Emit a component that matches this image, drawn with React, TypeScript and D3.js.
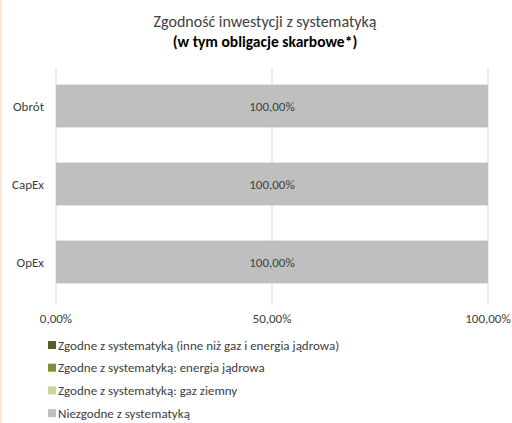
import React, { useRef, useEffect } from 'react';
import * as d3 from 'd3';

const categories = ['Obrót', 'CapEx', 'OpEx'];
const seriesNames = [
  'Zgodne z systematyką (inne niż gaz i energia jądrowa)',
  'Zgodne z systematyką: energia jądrowa',
  'Zgodne z systematyką: gaz ziemny',
  'Niezgodne z systematyką',
];
const seriesColors = ['#4f6228', '#77933c', '#c3d69b', '#bfbfbf'];
const alignedOther = [0, 0, 0];
const alignedNuclear = [0, 0, 0];
const alignedGas = [0, 0, 0];
const notAligned = [100, 100, 100];
const xTicks = [0, 50, 100];

const fmt = (v: number) => v.toFixed(2).replace('.', ',') + '%';
const FONT = 'Carlito, Calibri, Lato, sans-serif';

const App = () => {
  const svgRef = useRef<SVGSVGElement>(null);

  useEffect(() => {
    const width = 512;
    const height = 423;
    const svg = d3.select(svgRef.current);
    svg.selectAll('*').remove();
    svg.attr('width', width).attr('height', height).style('font-family', FONT);

    svg.append('rect').attr('x', 0).attr('y', 0).attr('width', width).attr('height', height).attr('fill', '#fff');
    svg.append('rect').attr('x', 0).attr('y', 0).attr('width', 2).attr('height', height).attr('fill', '#fde5d8');

    // title
    svg.append('text').attr('x', 265).attr('y', 27).attr('text-anchor', 'middle')
      .attr('font-size', 16).attr('fill', '#404040').text('Zgodność inwestycji z systematyką');
    svg.append('text').attr('x', 265).attr('y', 47).attr('text-anchor', 'middle')
      .attr('font-size', 15.5).attr('font-weight', 'bold').attr('fill', '#000').text('(w tym obligacje skarbowe*)');

    const x = d3.scaleLinear().domain([0, 100]).range([56, 488]);
    const y = d3.scaleBand().domain(categories).range([67, 301]).paddingInner(0.45).paddingOuter(0.225);

    const rows = categories.map((c, i) => ({
      cat: c,
      s0: alignedOther[i], s1: alignedNuclear[i], s2: alignedGas[i], s3: notAligned[i],
    }));
    const stacked = d3.stack<any>().keys(['s0', 's1', 's2', 's3'])(rows);

    // gridlines
    svg.append('g').selectAll('line').data(xTicks).enter().append('line')
      .attr('x1', d => x(d)).attr('x2', d => x(d))
      .attr('y1', 67).attr('y2', 305)
      .attr('stroke', '#d9d9d9').attr('stroke-width', 1);

    stacked.forEach((layer, li) => {
      svg.append('g').selectAll('rect').data(layer).enter().append('rect')
        .attr('x', d => x(d[0]))
        .attr('y', d => y(d.data.cat)!)
        .attr('width', d => Math.max(0, x(d[1]) - x(d[0])))
        .attr('height', y.bandwidth())
        .attr('fill', seriesColors[li]);
    });

    // value labels
    const last = stacked[3];
    svg.append('g').selectAll('text').data(last).enter().append('text')
      .attr('x', d => (x(d[0]) + x(d[1])) / 2)
      .attr('y', d => y(d.data.cat)! + y.bandwidth() / 2 + 4.5)
      .attr('text-anchor', 'middle').attr('font-size', 13).attr('fill', '#404040')
      .text(d => fmt(d[1] - d[0]));

    // category labels
    svg.append('g').selectAll('text').data(categories).enter().append('text')
      .attr('x', 44).attr('y', d => y(d)! + y.bandwidth() / 2 + 4.5)
      .attr('text-anchor', 'end').attr('font-size', 13).attr('fill', '#404040')
      .text(d => d);

    // x tick labels
    svg.append('g').selectAll('text').data(xTicks).enter().append('text')
      .attr('x', d => x(d)).attr('y', 323)
      .attr('text-anchor', 'middle').attr('font-size', 13).attr('fill', '#404040')
      .text(d => fmt(d));

    // legend
    const lg = svg.append('g');
    seriesNames.forEach((name, i) => {
      const ly = 345 + i * 22.7;
      lg.append('rect').attr('x', 48).attr('y', ly - 4).attr('width', 8).attr('height', 8).attr('fill', seriesColors[i]);
      lg.append('text').attr('x', 58).attr('y', ly + 4.5).attr('font-size', 13).attr('fill', '#404040').text(name);
    });
  }, []);

  return <svg ref={svgRef} style={{ position: 'absolute', left: 0, top: 0 }}></svg>;
};

export default App;
